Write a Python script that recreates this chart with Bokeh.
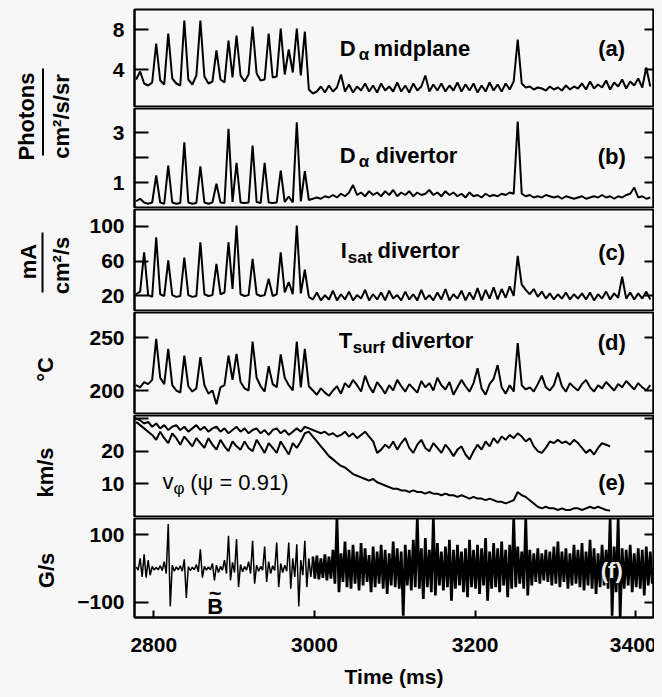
import numpy as np
from math import pi
from bokeh.plotting import figure
from bokeh.models import Range1d, LinearAxis, FixedTicker, Label, BoxAnnotation
from bokeh.layouts import row, column
from bokeh.embed import file_html
from bokeh.resources import INLINE

# ---------------- data ----------------
T0 = 2778   # ms, first sample
DT = 5      # ms, sample spacing
time_ticks = [2800, 3000, 3200, 3400]

# (a) D-alpha midplane  [photons / cm2/s/sr]
da_mid = [3.0, 3.8, 2.6, 2.4, 2.7, 6.6, 2.9, 2.5, 7.6, 3.1,
          2.6, 2.4, 8.9, 3.0, 2.5, 3.4, 8.9, 3.3, 2.6, 2.8,
          5.9, 3.0, 2.7, 6.9, 3.2, 7.4, 3.4, 2.8, 3.5, 8.3,
          3.6, 2.9, 3.0, 7.6, 3.2, 3.3, 8.1, 3.5, 6.0, 3.7,
          8.1, 3.4, 7.8, 2.0, 1.6, 1.8, 2.3, 1.7, 2.4, 1.8,
          2.2, 3.5, 1.8, 2.5, 1.7, 2.3, 1.9, 2.6, 1.8, 2.4,
          1.7, 2.6, 1.9, 2.3, 1.8, 2.7, 1.8, 2.4, 1.7, 2.6,
          1.9, 2.3, 3.4, 1.8, 2.5, 1.9, 2.6, 1.8, 2.4, 1.9,
          2.7, 1.8, 2.5, 1.9, 2.6, 1.7, 2.4, 1.8, 2.7, 1.9,
          2.5, 1.8, 2.6, 2.0, 2.8, 7.0, 2.6, 2.2, 2.3, 2.0,
          2.2, 2.1, 1.9, 2.3, 2.0, 2.2, 1.9, 2.4, 2.0, 2.3,
          2.1, 2.6, 2.0, 2.8, 2.1, 2.5, 2.2, 2.9, 2.0, 2.7,
          2.3, 3.0, 2.1, 2.8, 2.4, 3.1, 2.2, 4.2, 2.3]

# (b) D-alpha divertor
da_div = [0.25, 0.35, 0.2, 0.15, 0.2, 1.28, 0.2, 0.15, 1.68, 0.2,
          0.15, 0.18, 2.61, 0.2, 0.15, 0.18, 1.65, 0.2, 0.15, 0.2,
          0.95, 0.2, 0.18, 3.15, 0.22, 1.79, 0.2, 0.18, 0.2, 2.48,
          0.22, 0.18, 1.79, 0.2, 0.18, 0.2, 1.48, 0.22, 0.44, 0.2,
          3.41, 0.25, 1.45, 0.3, 0.35, 0.4, 0.35, 0.45, 0.4, 0.5,
          0.4, 0.55, 0.45, 0.6, 0.9, 0.5, 0.6, 0.45, 0.65, 0.5,
          0.6, 0.45, 0.65, 0.5, 0.7, 0.45, 0.6, 0.5, 0.65, 0.45,
          0.6, 0.5, 0.55, 0.7, 0.5, 0.6, 0.45, 0.65, 0.5, 0.6,
          0.45, 0.55, 0.4, 0.6, 0.45, 0.5, 0.4, 0.55, 0.45, 0.5,
          0.45, 0.55, 0.5, 0.6, 0.55, 3.44, 0.55, 0.45, 0.5, 0.4,
          0.45, 0.4, 0.5, 0.45, 0.4, 0.45, 0.35, 0.45, 0.4, 0.35,
          0.4, 0.45, 0.35, 0.4, 0.45, 0.4, 0.5, 0.4, 0.45, 0.35,
          0.45, 0.4, 0.5, 0.55, 0.8, 0.4, 0.45, 0.35, 0.4]

# (c) I_sat divertor  [mA / cm2/s]
isat_div = [22, 25, 70, 21, 19, 87, 22, 20, 60.6, 21,
            19, 20, 64, 21, 19, 20, 81.5, 22, 20, 21,
            56.8, 22, 24, 81.5, 28, 100.6, 22, 20, 21, 62.5,
            22, 20, 21, 39.6, 20, 22, 70, 24, 35.8, 22,
            100.6, 23, 50, 19, 16, 24, 15, 21, 16, 26,
            15, 22, 16, 25, 15, 21, 17, 27, 15, 22,
            16, 24, 15, 26, 17, 21, 15, 25, 16, 22,
            15, 27, 16, 21, 15, 24, 16, 28, 15, 22,
            17, 26, 15, 24, 16, 29, 15, 27, 17, 30,
            16, 28, 18, 31, 20, 65.8, 33, 27, 22, 28,
            19, 25, 17, 23, 16, 22, 17, 24, 16, 22,
            17, 23, 16, 24, 15, 22, 17, 25, 16, 23,
            18, 42, 17, 24, 16, 23, 17, 25, 16]

# (d) T_surf divertor  [deg C]
tsurf_div = [205, 203, 208, 206, 210, 248.8, 212, 206, 239.3, 205,
             200, 198, 233, 204, 199, 202, 231.4, 205, 197, 200,
             187, 203, 205, 233, 210, 234.6, 208, 202, 200, 246.2,
             212, 204, 199, 223, 206, 203, 234, 212, 205, 200,
             246.2, 203, 239.3, 204, 200, 196, 202, 198, 195, 200,
             204, 197, 207, 203, 210, 205, 199, 214, 204, 198,
             208, 203, 197, 205, 200, 210, 204, 199, 206, 202,
             198, 209, 203, 207, 200, 212, 205, 201, 208, 196,
             203, 210, 204, 199, 207, 221, 202, 196, 206, 211,
             224, 203, 197, 205, 199, 244.7, 205, 201, 203, 199,
             206, 214, 203, 200, 205, 217, 204, 199, 207, 203,
             200, 206, 210, 203, 199, 205, 202, 208, 204, 200,
             206, 203, 209, 205, 201, 207, 203, 200, 205]

# (e) toroidal rotation v_phi at psi = 0.91  [km/s], two traces
vphi_upper = [30, 29.5, 28.5, 29, 27.5, 28.5, 27, 28, 26.5, 27.5,
              28, 26.5, 27.5, 26, 27, 28, 26.5, 27.5, 26, 27,
              27.5, 26, 27, 25.5, 26.5, 27.5, 26, 27, 25.5, 26.5,
              27, 25.5, 26.5, 25, 26.5, 27, 25.5, 26.5, 25, 26,
              27, 26, 27.5, 27, 26.5, 26, 25.5, 26, 25, 25.5,
              24.5, 25, 26, 24.5, 25.5, 24, 25, 26, 24.5, 23,
              19.5, 20.5, 22, 21, 23, 20.5, 22.5, 24, 21, 19.5,
              22, 23.5, 21, 20, 22.5, 21, 19.5, 22, 20.5, 18.5,
              20.5, 21.5, 19, 17.5, 20, 22, 20.5, 23, 21.5, 24,
              22.5, 24.5, 23.5, 25, 24, 25.5, 24.5, 23, 24, 21.5,
              20, 19.5, 21, 23, 22.5, 23.5, 22.5, 23, 22, 23.5,
              22.5, 21, 19.5, 20.5, 19, 21, 22.5, 22, 21.5]
vphi_lower = [29, 28, 27, 26, 25, 23.5, 26, 24, 22.5, 25.5,
              24, 22, 24.5, 23, 21.5, 24, 22.5, 21, 24, 22,
              20.5, 23.5, 21.5, 20, 23, 21.5, 20.5, 23, 21, 20,
              23.5, 21.5, 19.5, 22.5, 21, 19.5, 23, 21, 19, 22.5,
              21, 23, 25.5, 26, 24.5, 23, 21.5, 20, 18.5, 17.5,
              16.5, 15.5, 15, 14, 13, 12.5, 12, 11.5, 11, 11.5,
              10.5, 10, 9.5, 9, 8.5, 8.5, 8, 8, 7.5, 8,
              7.5, 7.5, 7, 7.5, 7, 7, 6.5, 7, 6.5, 6.5,
              6, 6.5, 6, 5.5, 6, 5.5, 5.5, 5, 5.5, 5,
              4.5, 4.5, 4, 4.5, 5, 7.5, 6.5, 6, 5, 4,
              3, 2.5, 3, 2.5, 2.5, 2, 2.5, 2, 2, 2.5,
              2.5, 2, 2.5, 3, 2.5, 3, 2.5, 2, 1.8]

# (f) B-dot [G/s]: upper and lower swing of the signal in each sample
bdot_upper = [5, 30, 42, 25, 6, 4, 8, 20, 132, 10,
              5, 8, 27, 6, 4, 12, 57, 6, 5, 15,
              10, 6, 25, 97, 18, 87, 12, 6, 20, 82,
              10, 6, 65, 20, 8, 77, 15, 10, 77, 30,
              72, 25, 82, 30, 35, 38, 30, 42, 35, 55,
              150, 45, 80, 55, 70, 50, 75, 60, 40, 65,
              50, 70, 55, 45, 80, 60, 50, 70, 55, 85,
              150, 60, 90, 55, 150, 75, 50, 65, 85, 55,
              70, 50, 60, 85, 55, 70, 60, 90, 50, 75,
              60, 80, 55, 70, 150, 65, 50, 150, 55, 45,
              60, 45, 55, 50, 65, 80, 50, 60, 45, 70,
              55, 75, 50, 85, 60, 45, 70, 55, 150, 65,
              150, 60, 55, 70, 45, 60, 55, 65, 50]
bdot_lower = [-5, -25, -27, -20, -5, -4, -6, -15, -112, -8,
              -4, -8, -87, -6, -4, -10, -27, -5, -4, -35,
              -12, -5, -15, -35, -12, -55, -10, -5, -15, -45,
              -8, -5, -40, -15, -6, -55, -12, -8, -60, -25,
              -112, -20, -55, -25, -30, -32, -28, -35, -30, -45,
              -70, -40, -55, -60, -45, -65, -50, -40, -70, -55,
              -45, -60, -75, -50, -55, -60, -140, -50, -65, -55,
              -60, -90, -55, -70, -80, -50, -65, -55, -95, -60,
              -50, -70, -85, -55, -60, -75, -50, -95, -60, -55,
              -70, -50, -85, -60, -55, -45, -60, -80, -50, -40,
              -45, -35, -40, -50, -45, -55, -40, -60, -50, -45,
              -55, -65, -50, -60, -75, -55, -50, -60, -140, -70,
              -145, -60, -50, -70, -55, -60, -80, -50, -45]

for arr in (da_mid, da_div, isat_div, tsurf_div, bdot_upper, bdot_lower):
    assert len(arr) == 129, len(arr)
assert len(vphi_upper) == 119 and len(vphi_lower) == 119

t = T0 + DT * np.arange(129)
te = t[:119]
fx = np.empty(2 * 129)
fy = np.empty(2 * 129)
fx[0::2] = t
fx[1::2] = t + DT / 2
fy[0::2] = bdot_upper
fy[1::2] = bdot_lower
SPLIT = 2 * 44   # the quiet ELMy part before ~3000 ms is drawn with a thinner pen

# ---------------- styling ----------------
FONT = "Liberation Sans"
BG = "#f7f7f7"
LW = 2.0
xr = Range1d(2776, 3422)


def panel(height, yr, ticks, bottom=False, overrides=None):
    p = figure(width=582, height=height, x_range=xr, y_range=Range1d(*yr),
               output_backend="svg", toolbar_location=None,
               x_axis_location="below" if bottom else None,
               min_border_left=56, min_border_right=3, min_border_top=1,
               min_border_bottom=1,
               background_fill_color=BG, border_fill_color=BG,
               outline_line_color="black", outline_line_width=2)
    p.grid.visible = False
    ya = p.yaxis[0]
    ya.ticker = FixedTicker(ticks=ticks)
    if overrides:
        ya.major_label_overrides = overrides
    ya.major_tick_in = 14
    ya.major_tick_out = 0
    ya.major_tick_line_width = 2
    ya.minor_tick_in = 0
    ya.minor_tick_out = 0
    ya.axis_line_width = 2
    ya.major_label_standoff = 10
    ya.major_label_text_font = FONT
    ya.major_label_text_font_style = "bold"
    ya.major_label_text_font_size = "21px"
    ya.major_label_text_color = "black"
    ra = LinearAxis(ticker=FixedTicker(ticks=ticks),
                    major_label_overrides={tk: "" for tk in ticks},
                    major_label_standoff=0, major_tick_in=9, major_tick_out=0,
                    minor_tick_in=0, minor_tick_out=0, major_tick_line_width=2,
                    axis_line_width=2)
    p.add_layout(ra, "right")
    return p


def lab(p, x, y, text, size="22px", style="bold", align="left", **kw):
    kw.setdefault("text_color", "black")
    p.add_layout(Label(x=x, y=y, text=text, text_font=FONT, text_font_size=size,
                       text_font_style=style, text_align=align,
                       text_baseline="middle", **kw))


heights = [99, 101, 103, 103, 103, 173]

pa = panel(heights[0], (0.3, 10.0), [4, 8])
pa.line(t, da_mid, line_color="black", line_width=LW)
lab(pa, 3031.4, 6.1, "D")
lab(pa, 3055.0, 5.5, "α", size="17px")
lab(pa, 3073.6, 6.1, "midplane")
lab(pa, 3370, 6.1, "(a)", align="center")

pb = panel(heights[1], (0.0, 3.96), [1, 2, 3], overrides={2: ""})
pb.line(t, da_div, line_color="black", line_width=LW)
lab(pb, 3031.4, 2.08, "D")
lab(pb, 3055.0, 1.84, "α", size="17px")
lab(pb, 3076.0, 2.08, "divertor")
lab(pb, 3370, 2.04, "(b)", align="center")

pc = panel(heights[2], (3.4, 118.9), [20, 60, 100])
pc.line(t, isat_div, line_color="black", line_width=LW)
lab(pc, 3032.7, 72, "I")
lab(pc, 3041.4, 64, "sat", size="17px")
lab(pc, 3078.6, 72, "divertor")
lab(pc, 3370, 69.7, "(c)", align="center")

pd = panel(heights[3], (178.3, 273.6), [200, 250])
pd.line(t, tsurf_div, line_color="black", line_width=LW)
lab(pd, 3030.2, 247.2, "T")
lab(pd, 3047.6, 240.6, "surf", size="17px")
lab(pd, 3095.9, 247.2, "divertor")
lab(pd, 3370, 245.3, "(d)", align="center")

pe = panel(heights[4], (0.0, 30.95), [10, 20, 30], overrides={30: ""})
pe.line(te, vphi_upper, line_color="black", line_width=LW)
pe.line(te, vphi_lower, line_color="black", line_width=LW)
lab(pe, 2776, 28.0, "30", size="21px", align="right", x_offset=-10)
lab(pe, 2810.7, 10.7, "v", style="normal")
lab(pe, 2824.4, 8.56, "φ", size="17px", style="normal")
lab(pe, 2845.4, 10.4, "(ψ = 0.91)", style="normal")
lab(pe, 3370, 10.4, "(e)", align="center")

pf = panel(heights[5], (-145, 148), [-100, 100], bottom=True)
pf.line(fx[:SPLIT + 1], fy[:SPLIT + 1], line_color="black", line_width=1.5)
pf.line(fx[SPLIT:], fy[SPLIT:], line_color="black", line_width=2.7)
lab(pf, 2876.4, -112.6, "B", align="center")
lab(pf, 2876.4, -74, "~", align="center")
lab(pf, 3370, -5.9, "(f)", align="center", text_color="#eeeeee")
xa = pf.xaxis[0]
xa.ticker = FixedTicker(ticks=time_ticks)
xa.major_tick_in = 7
xa.major_tick_out = 0
xa.major_tick_line_width = 2
xa.minor_tick_in = 0
xa.minor_tick_out = 0
xa.axis_line_width = 2
xa.major_label_standoff = 20
xa.major_label_text_font = FONT
xa.major_label_text_font_style = "bold"
xa.major_label_text_font_size = "21px"
xa.major_label_text_color = "black"
xa.axis_label = "Time (ms)"
xa.axis_label_standoff = 10
xa.axis_label_text_font = FONT
xa.axis_label_text_font_style = "bold"
xa.axis_label_text_font_size = "21px"
xa.axis_label_text_color = "black"

# ---------------- left column with the unit labels ----------------
H = sum(heights)
pl = figure(width=66, height=H, x_range=Range1d(0, 66), y_range=Range1d(H, 0),
            output_backend="svg", toolbar_location=None,
            x_axis_location=None, y_axis_location=None, min_border=0,
            background_fill_color=BG, border_fill_color=BG, outline_line_color=None)
pl.grid.visible = False


def ulab(x, y, text, size="22px"):
    pl.add_layout(Label(x=x, y=y, text=text, angle=pi / 2, text_font=FONT,
                        text_font_size=size, text_font_style="bold",
                        text_align="center", text_baseline="middle", text_color="black"))


ulab(18, 108, "Photons")
pl.add_layout(BoxAnnotation(left=33.5, right=35.5, top=60, bottom=147,
                            fill_color="black", fill_alpha=1, line_color=None))
ulab(53, 108, "cm²/s/sr")
ulab(19.5, 253, "mA")
pl.add_layout(BoxAnnotation(left=33, right=35, top=224, bottom=284,
                            fill_color="black", fill_alpha=1, line_color=None))
ulab(53, 257, "cm²/s")
ulab(37, 361, "°C")
ulab(37, 464, "km/s")
ulab(38, 562, "G/s")

layout = row(pl, column(pa, pb, pc, pd, pe, pf))

html = file_html(layout, INLINE)
html = html.replace("<body>", '<body style="background:%s; margin:8px 8px 0 8px">' % BG)
open("out.html", "w").write(html)
